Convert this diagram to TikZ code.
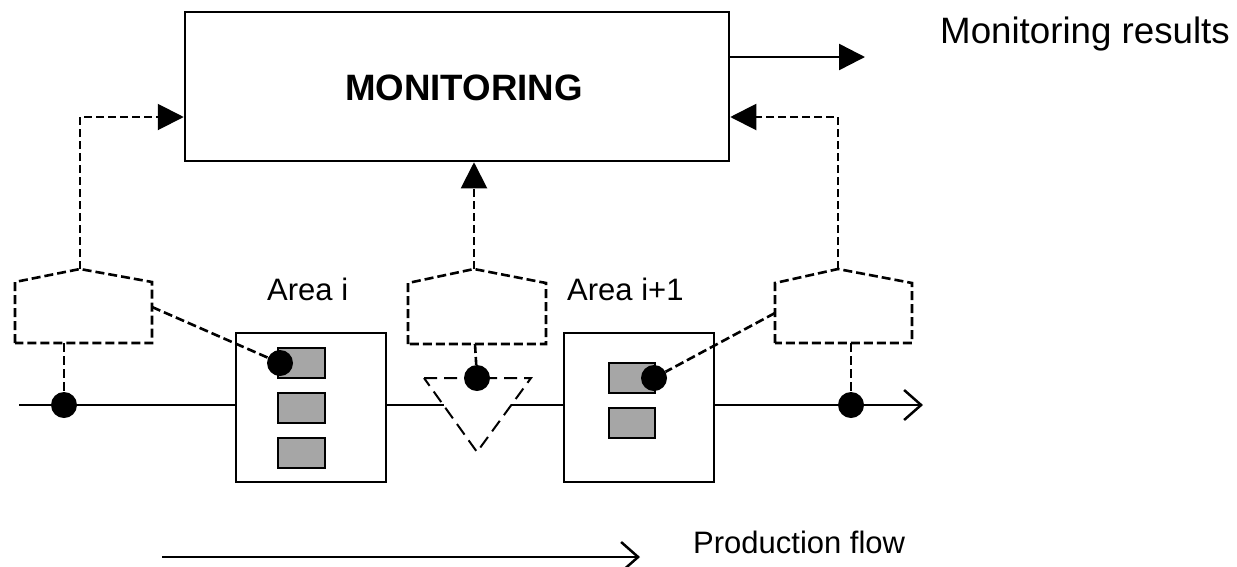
\documentclass[tikz,border=0pt]{standalone}
\usepackage{fontspec}
\setmainfont{Liberation Sans}
\usetikzlibrary{arrows.meta}
\begin{document}
\begin{tikzpicture}[x=1pt,y=-1pt,
  solidln/.style={line width=2.5pt},
  boxnode/.style={draw,line width=2.5pt,inner sep=0pt,fill=white},
  partnode/.style={draw,line width=2.5pt,inner sep=0pt,fill=partgrey,minimum width=47pt,minimum height=30pt},
  dotnode/.style={circle,fill=black,inner sep=0pt,minimum size=26pt},
  sensor/.style={dash pattern=on 9pt off 4pt,line width=2.6pt,line join=miter},
  feedback/.style={dash pattern=on 8pt off 4pt,line width=2pt},
  buffer/.style={dash pattern=on 13pt off 7pt,line width=2pt},
  bigtxt/.style={inner sep=0pt,anchor=base west,font=\fontsize{36.7}{44}\selectfont},
  smalltxt/.style={inner sep=0pt,anchor=base west,font=\fontsize{31}{37}\selectfont},
  solidtip/.style={-{Triangle[length=26pt,width=26pt]}},
  opentip/.style={-{Straight Barb[length=17pt,width=30pt]}}
]
\definecolor{partgrey}{HTML}{A6A6A6}
\useasboundingbox (0,0) rectangle (1237,566);

% monitoring box
\node[boxnode,minimum width=544pt,minimum height=149pt] (mon) at (457,86.5) {};
\node[inner sep=0pt,anchor=base,font=\fontsize{36.7}{44}\selectfont\bfseries] (montxt) at (464,100) {MONITORING};
\node[bigtxt] (restxt) at (940,43) {Monitoring results};

% output arrow
\coordinate (outE) at (865,57);
\draw[solidln,solidtip] (mon.east |- outE) -- (outE);

% areas
\node[boxnode,minimum width=150pt,minimum height=149pt] (areaA) at (311,407.5) {};
\node[boxnode,minimum width=150pt,minimum height=149pt] (areaB) at (639,407.5) {};
\node[smalltxt] (labA) at (267,300) {Area i};
\node[smalltxt] (labB) at (567,300) {Area i+1};

\node[partnode] (a1) at (301.5,363) {};
\node[partnode] (a2) at (301.5,408) {};
\node[partnode] (a3) at (301.5,453) {};
\node[partnode,minimum width=46pt] (b1) at (632,378) {};
\node[partnode,minimum width=46pt] (b2) at (632,423) {};

% pentagons (sensors)
\coordinate (pLa) at (80,269);
\coordinate (pLb) at (64,343);
\coordinate (pLr) at (152,307);
\draw[sensor] (15,343) -- (15,282) -- (pLa) -- (152,282) -- (152,343) -- cycle;
\coordinate (pMa) at (474,269);
\coordinate (pMb) at (475,344);
\draw[sensor] (408,344) -- (408,283) -- (pMa) -- (546,283) -- (546,344) -- cycle;
\coordinate (pRa) at (838,269);
\coordinate (pRb) at (851,343);
\coordinate (pRl) at (775,313);
\draw[sensor] (775,343) -- (775,283) -- (pRa) -- (912,283) -- (912,343) -- cycle;

% buffer triangle
\coordinate (t1) at (424,378);
\coordinate (t2) at (531,378);
\coordinate (t3) at (477,452);
\draw[buffer] (t1) -- (t2) -- (t3) -- cycle;
\coordinate (tl) at (444,405);
\coordinate (tr) at (511,405);

% dots
\node[dotnode] (d1) at (64,405) {};
\node[dotnode] (dA) at (280,363) {};
\node[dotnode] (dM) at (477,378) {};
\node[dotnode] (dB) at (654,378) {};
\node[dotnode] (d2) at (851,405) {};

% flow line
\coordinate (fs) at (19,405);
\coordinate (fe) at (923,405);
\draw[solidln] (fs) -- (fs -| areaA.west);
\draw[solidln] (tl -| areaA.east) -- (tl);
\draw[solidln] (tr) -- (tr -| areaB.west);
\draw[solidln,opentip] (fe -| areaB.east) -- (fe);

% sensor links
\draw[sensor] (pLb) -- (d1);
\draw[sensor] (pLr) -- (dA);
\draw[sensor] (pMb) -- (dM);
\draw[sensor] (pRl) -- (dB);
\draw[sensor] (pRb) -- (d2);

% feedback to monitoring
\coordinate (lev) at (0,117);
\draw[feedback,solidtip] (pLa) |- (lev -| mon.west);
\draw[feedback,solidtip] (pMa) -- (pMa |- mon.south);
\draw[feedback,solidtip] (pRa) |- (lev -| mon.east);

% production flow
\coordinate (pfs) at (162,557);
\coordinate (pfe) at (640,557);
\draw[solidln,opentip] (pfs) -- (pfe);
\node[smalltxt] (pftxt) at (693,553) {Production flow};
\end{tikzpicture}
\end{document}
